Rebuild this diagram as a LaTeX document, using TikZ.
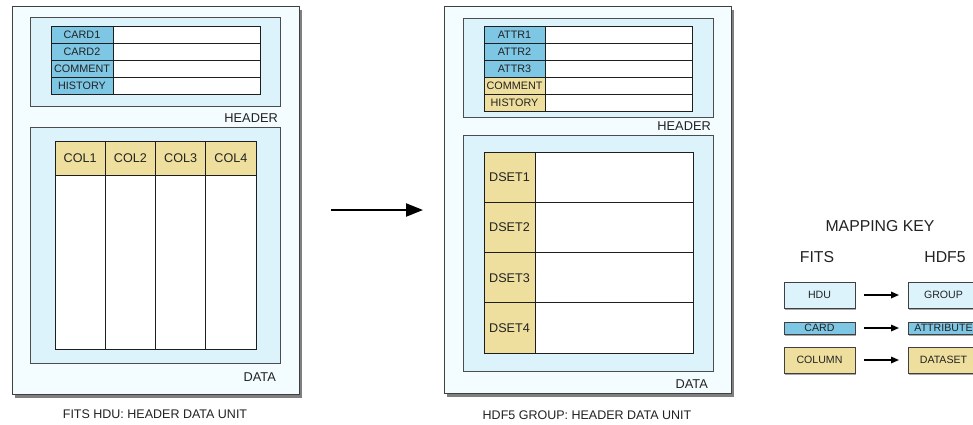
\documentclass[tikz,border=0pt]{standalone}
\usepackage{fontspec}
\setmainfont{Liberation Sans}
\usetikzlibrary{arrows.meta,shadows}
\definecolor{outerfill}{HTML}{F3FCFE}
\definecolor{innerfill}{HTML}{DCF3FC}
\definecolor{cardblue}{HTML}{7DC6E4}
\definecolor{colyellow}{HTML}{EEDF9E}
\definecolor{linecol}{HTML}{1E1E1E}
\definecolor{textcol}{HTML}{222222}
\begin{document}
\begin{tikzpicture}[x=1pt,y=-1pt,
  box/.style={rectangle, inner sep=0pt, outer sep=0pt, draw=linecol, line width=0.8pt, text=textcol},
  outerbox/.style={box, fill=outerfill, draw=black!75,
    drop shadow={shadow xshift=2.5pt, shadow yshift=-3.5pt, opacity=0.5, fill=black}},
  innerbox/.style={box, fill=innerfill, draw=black!70},
  bluecell/.style={box, fill=cardblue, font=\fontsize{10.8}{12}\selectfont},
  yellowcell/.style={box, fill=colyellow, font=\fontsize{10.8}{12}\selectfont},
  bigcell/.style={box, fill=colyellow, font=\fontsize{12.6}{14}\selectfont},
  valuecell/.style={box, fill=white},
  sectlabel/.style={inner sep=0pt, anchor=east, text=textcol, font=\fontsize{12.8}{14}\selectfont},
  caption/.style={inner sep=0pt, text=textcol, font=\fontsize{12.5}{14}\selectfont},
  keytitle/.style={inner sep=0pt, text=textcol, font=\fontsize{15.8}{18}\selectfont},
  keybox/.style={box, minimum width=71pt, draw=black!75, font=\fontsize{10.6}{12}\selectfont,
    drop shadow={shadow xshift=1pt, shadow yshift=-1.5pt, opacity=0.35, fill=black}},
  keyarrow/.style={-{Triangle[length=8pt,width=6.5pt]}, line width=1.6pt, black, shorten <=9pt, shorten >=9pt},
  bigarrow/.style={-{Triangle[length=17pt,width=13pt]}, line width=2.2pt, black}
]
\fill[white] (0,0) rectangle (973,424);
\useasboundingbox (0,0) rectangle (973,424);

% ---------------- FITS HDU ----------------
\node[outerbox, minimum width=287pt, minimum height=388pt] (fits) at (155.5,200) {};
\node[innerbox, minimum width=250pt, minimum height=89pt] (fitshdr) at (155,61.5) {};
\node[innerbox, minimum width=250pt, minimum height=236pt] (fitsdata) at (155,245) {};
\foreach \lab [count=\i] in {CARD1,CARD2,COMMENT,HISTORY}{
  \node[bluecell, minimum width=62pt, minimum height=17pt] (fcard\i) at (82,{17.5+17*\i}) {\lab};
  \node[valuecell, minimum width=147pt, minimum height=17pt] (fval\i) at (186.5,{17.5+17*\i}) {};
}
\node[sectlabel] (fitshdrlab) at (278,118) {HEADER};
\foreach \lab [count=\i] in {COL1,COL2,COL3,COL4}{
  \node[bigcell, minimum width=50.25pt, minimum height=34pt] (fcol\i) at ({29.875+50.25*\i},158) {\lab};
  \node[valuecell, minimum width=50.25pt, minimum height=174pt] (fcolv\i) at ({29.875+50.25*\i},262) {};
}
\node[sectlabel] (fitsdatalab) at (276,377) {DATA};
\node[caption] (fitscap) at (155,414) {FITS HDU: HEADER DATA UNIT};

% ---------------- HDF5 GROUP ----------------
\node[outerbox, minimum width=287pt, minimum height=387pt] (hdf) at (587.5,199.5) {};
\node[innerbox, minimum width=250pt, minimum height=99pt] (hdfhdr) at (588,67.5) {};
\node[innerbox, minimum width=250pt, minimum height=236pt] (hdfdata) at (588,253) {};
\foreach \lab/\sty [count=\i] in {ATTR1/bluecell,ATTR2/bluecell,ATTR3/bluecell,COMMENT/yellowcell,HISTORY/yellowcell}{
  \node[\sty, minimum width=61pt, minimum height=17pt] (hattr\i) at (514.5,{17.5+17*\i}) {\lab};
  \node[valuecell, minimum width=147pt, minimum height=17pt] (hval\i) at (618.5,{17.5+17*\i}) {};
}
\node[sectlabel] (hdfhdrlab) at (711,126) {HEADER};
\foreach \lab [count=\i] in {DSET1,DSET2,DSET3,DSET4}{
  \node[bigcell, minimum width=51pt, minimum height=50.25pt] (hdset\i) at (509.5,{127+50.25*\i}) {\lab};
  \node[valuecell, minimum width=158pt, minimum height=50.25pt] (hdsetv\i) at (614,{127+50.25*\i}) {};
}
\node[sectlabel] (hdfdatalab) at (708,384) {DATA};
\node[caption] (hdfcap) at (587,415) {HDF5 GROUP: HEADER DATA UNIT};

% ---------------- main arrow ----------------
\draw[bigarrow, shorten <=32pt, shorten >=21pt] ([yshift=-10pt]fits.east) -- ([yshift=-10pt]fits.east -| hdf.west);

% ---------------- mapping key ----------------
\node[keytitle] (keytitle) at (880,226) {MAPPING KEY};
\node[keytitle] (keyfits) at (817,257) {FITS};
\node[keytitle] (keyhdf) at (945,257) {HDF5};
\node[keybox, fill=innerfill, minimum height=26pt] (khdu) at (819.5,295) {HDU};
\node[keybox, fill=innerfill, minimum height=26pt] (kgroup) at (943.5,295) {GROUP};
\node[keybox, fill=cardblue, minimum height=12pt] (kcard) at (819.5,328) {CARD};
\node[keybox, fill=cardblue, minimum height=12pt] (kattr) at (943.5,328) {ATTRIBUTE};
\node[keybox, fill=colyellow, minimum height=26pt] (kcol) at (819.5,360) {COLUMN};
\node[keybox, fill=colyellow, minimum height=26pt] (kdset) at (943.5,360) {DATASET};
\draw[keyarrow] (khdu) -- (kgroup);
\draw[keyarrow] (kcard) -- (kattr);
\draw[keyarrow] (kcol) -- (kdset);
\end{tikzpicture}
\end{document}
